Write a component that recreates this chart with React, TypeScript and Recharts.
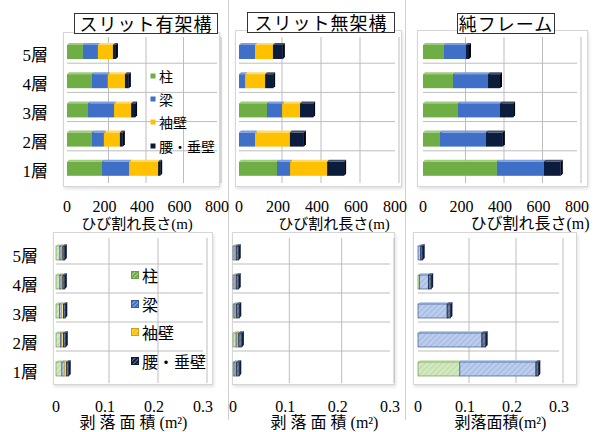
import { BarChart, Bar, XAxis, YAxis, CartesianGrid, Legend } from 'recharts'

const floors = ['5層', '4層', '3層', '2層', '1層']

// ひび割れ長さ (m)
const crackSlitColumn = [85, 133, 112, 133, 187]
const crackSlitBeam = [80, 85, 139, 64, 144]
const crackSlitWing = [80, 91, 91, 85, 155]
const crackSlitSpandrel = [16, 21, 21, 16, 11]

const crackOpenColumn = [0, 0, 144, 0, 195]
const crackOpenBeam = [82, 31, 77, 82, 67]
const crackOpenWing = [92, 103, 92, 179, 190]
const crackOpenSpandrel = [51, 41, 67, 72, 87]

const crackFrameColumn = [109, 156, 182, 88, 384]
const crackFrameBeam = [114, 182, 218, 239, 244]
const crackFrameWing = [0, 0, 0, 0, 0]
const crackFrameSpandrel = [16, 62, 68, 88, 88]

// 剥落面積 (m²)
const spallSlitColumn = [0.008, 0.008, 0.007, 0.009, 0.012]
const spallSlitBeam = [0.003, 0.003, 0.004, 0.003, 0.005]
const spallSlitWing = [0.003, 0.003, 0.004, 0.003, 0.004]
const spallSlitSpandrel = [0.004, 0.004, 0.004, 0.005, 0.005]

const spallOpenColumn = [0, 0, 0.002, 0.006, 0.002]
const spallOpenBeam = [0.004, 0.004, 0.003, 0.002, 0.003]
const spallOpenWing = [0.002, 0.002, 0.002, 0.003, 0.002]
const spallOpenSpandrel = [0.005, 0.005, 0.005, 0.006, 0.005]

const spallFrameColumn = [0, 0.003, 0, 0, 0.089]
const spallFrameBeam = [0.006, 0.019, 0.062, 0.136, 0.162]
const spallFrameWing = [0, 0, 0, 0, 0]
const spallFrameSpandrel = [0.004, 0.006, 0.007, 0.008, 0.005]

const crackTicks = [0, 200, 400, 600, 800]
const spallTicks = [0, 0.1, 0.2, 0.3]
const panelTitles = ['スリット有架構', 'スリット無架構', '純フレーム']
const crackAxisTitle = ['ひび割れ長さ', '(m)']
const spallAxisTitle = ['剥落面積', '(m²)']

const SERIF = "'Liberation Serif', 'Noto Sans CJK JP', serif"
const GOTHIC = "'Noto Sans CJK JP', sans-serif"

const series = [
  { key: 'column', name: '柱', color: '#6fae45', top: '#9fcb7f', side: '#4d7d2f', light: '#d3e8c0', edge: '#6f9a52' },
  { key: 'beam', name: '梁', color: '#3f6fc6', top: '#7d9fdc', side: '#2a4f94', light: '#bccdec', edge: '#3b5a92' },
  { key: 'wing', name: '袖壁', color: '#ffc000', top: '#ffd966', side: '#c49300', light: '#ffe8a3', edge: '#c9a030' },
  { key: 'spandrel', name: '腰・垂壁', color: '#0c1c3c', top: '#44506a', side: '#000510', light: '#6d7d99', edge: '#0c1c3c' },
]

type Row = { floor: string; column: number; beam: number; wing: number; spandrel: number }

function toRows(column: number[], beam: number[], wing: number[], spandrel: number[]): Row[] {
  return floors.map((floor, i) => ({ floor, column: column[i], beam: beam[i], wing: wing[i], spandrel: spandrel[i] }))
}

const TOP_Y = 37
const TOP_H = 146
const BOTTOM_Y = 238
const BOTTOM_H = 145
const PAD_L = 10
const PAD_R = 22

const panels = [
  {
    id: 'p1', data: toRows(crackSlitColumn, crackSlitBeam, crackSlitWing, crackSlitSpandrel),
    ticks: crackTicks, axisTitle: crackAxisTitle, hatched: false, axisH: 56,
    plot: { x: 67, y: TOP_Y, w: 150, h: TOP_H }, frame: { x: 63, y: 32, w: 157, h: 155 },
    yAxisWidth: 56, yTickMargin: 19, xTickMargin: 18, titleBaseline: 46, titleDx: -5, titleSize: 15, titleSpacing: 0,
    legend: { x: 150, y: 64, square: 6, size: 14, row: 23.3 },
  },
  {
    id: 'p2', data: toRows(crackOpenColumn, crackOpenBeam, crackOpenWing, crackOpenSpandrel),
    ticks: crackTicks, axisTitle: crackAxisTitle, hatched: false, axisH: 56,
    plot: { x: 239, y: TOP_Y, w: 156, h: TOP_H }, frame: { x: 235, y: 30, w: 167, h: 157 },
    yAxisWidth: 0, yTickMargin: 0, xTickMargin: 18, titleBaseline: 46, titleDx: 17, titleSize: 15, titleSpacing: 0,
  },
  {
    id: 'p3', data: toRows(crackFrameColumn, crackFrameBeam, crackFrameWing, crackFrameSpandrel),
    ticks: crackTicks, axisTitle: crackAxisTitle, hatched: false, axisH: 56,
    plot: { x: 423, y: TOP_Y, w: 154, h: TOP_H }, frame: { x: 417, y: 30, w: 171, h: 157 },
    yAxisWidth: 0, yTickMargin: 0, xTickMargin: 18, titleBaseline: 46, titleDx: 30, titleSize: 16, titleSpacing: 0,
  },
  {
    id: 'p4', data: toRows(spallSlitColumn, spallSlitBeam, spallSlitWing, spallSlitSpandrel),
    ticks: spallTicks, axisTitle: spallAxisTitle, hatched: true, axisH: 49,
    plot: { x: 56, y: BOTTOM_Y, w: 147, h: BOTTOM_H }, frame: { x: 53, y: 232, w: 160, h: 153 },
    yAxisWidth: 46, yTickMargin: 18, xTickMargin: 18, titleBaseline: 45, titleDx: 4, titleSize: 16, titleSpacing: 4,
    legend: { x: 131, y: 261, square: 8, size: 16, row: 28.5 },
  },
  {
    id: 'p5', data: toRows(spallOpenColumn, spallOpenBeam, spallOpenWing, spallOpenSpandrel),
    ticks: spallTicks, axisTitle: spallAxisTitle, hatched: true, axisH: 49,
    plot: { x: 233, y: BOTTOM_Y, w: 157, h: BOTTOM_H }, frame: { x: 232, y: 232, w: 163, h: 153 },
    yAxisWidth: 0, yTickMargin: 0, xTickMargin: 18, titleBaseline: 45, titleDx: 13, titleSize: 16, titleSpacing: 4,
  },
  {
    id: 'p6', data: toRows(spallFrameColumn, spallFrameBeam, spallFrameWing, spallFrameSpandrel),
    ticks: spallTicks, axisTitle: spallAxisTitle, hatched: true, axisH: 49,
    plot: { x: 418, y: BOTTOM_Y, w: 141, h: BOTTOM_H }, frame: { x: 413, y: 232, w: 164, h: 153 },
    yAxisWidth: 0, yTickMargin: 0, xTickMargin: 18, titleBaseline: 45, titleDx: 12, titleSize: 16, titleSpacing: 0,
  },
]

const titleBoxes = [
  { left: 74, top: 13, width: 144 },
  { left: 247, top: 12, width: 148 },
  { left: 457, top: 13, width: 98 },
]

type Panel = (typeof panels)[number]

// stacked segment with a shallow top face and right face for the 3D look
function Block3D(props: any) {
  const { x, y, width, height, fill, stroke, topFill, sideFill } = props
  if (!width || width <= 0.01) return <g />
  const d = 2
  return (
    <g>
      <polygon points={`${x},${y} ${x + d},${y - d} ${x + width + d},${y - d} ${x + width},${y}`} fill={topFill} />
      <polygon
        points={`${x + width},${y} ${x + width + d},${y - d} ${x + width + d},${y + height - d} ${x + width},${y + height}`}
        fill={sideFill}
      />
      <rect x={x} y={y} width={width} height={height} fill={fill} stroke={stroke} strokeWidth={stroke ? 0.7 : 0} />
    </g>
  )
}

function AxisTitle(props: any) {
  const { viewBox, parts, baseline, dx, size, spacing, fallback } = props
  const box = viewBox && typeof viewBox.x === 'number' ? viewBox : fallback
  const cx = box.x + box.width / 2 + dx
  return (
    <text x={cx} y={box.y + baseline} textAnchor="middle" fontSize={size} fill="#000">
      <tspan fontFamily={GOTHIC} style={{ letterSpacing: spacing }}>{parts[0]}</tspan>
      <tspan fontFamily={SERIF}>{parts[1]}</tspan>
    </text>
  )
}

function LegendList({ payload, cfg }: { payload?: any[]; cfg: Panel }) {
  const lg = cfg.legend!
  const keys = new Set((payload ?? []).map((p: any) => p.dataKey))
  const items = series.filter(s => keys.size === 0 || keys.has(s.key))
  return (
    <div>
      {items.map(s => (
        <div
          key={s.key}
          style={{ display: 'flex', alignItems: 'center', height: lg.row, fontFamily: GOTHIC, fontSize: lg.size, lineHeight: 1, color: '#000' }}
        >
          <svg width={lg.square} height={lg.square} style={{ marginRight: 3, display: 'block' }}>
            <rect
              x={0.5} y={0.5} width={lg.square - 1} height={lg.square - 1}
              fill={cfg.hatched ? `url(#${cfg.id}-swatch-${s.key})` : s.color}
              stroke={cfg.hatched ? s.edge : 'none'}
            />
          </svg>
          <span style={{ whiteSpace: 'nowrap' }}>{s.name}</span>
        </div>
      ))}
    </div>
  )
}

function PanelChart({ cfg }: { cfg: Panel }) {
  const max = cfg.ticks[cfg.ticks.length - 1]
  const left = cfg.plot.x - cfg.yAxisWidth - PAD_L
  const top = cfg.plot.y
  const width = PAD_L + cfg.yAxisWidth + cfg.plot.w + PAD_R
  const height = cfg.plot.h + cfg.axisH
  const plotLeft = PAD_L + cfg.yAxisWidth
  // the back wall sits a little right of and above the bar fronts
  const wallShift = 4
  const verticalPoints = cfg.ticks.filter(t => t > 0).map(t => plotLeft + (t / max) * cfg.plot.w + wallShift)
  const horizontalPoints = [1, 2, 3, 4].map(i => (i * cfg.plot.h) / floors.length - 3)

  return (
    <>
      <div
        style={{
          position: 'absolute', left: cfg.frame.x, top: cfg.frame.y, width: cfg.frame.w, height: cfg.frame.h,
          boxSizing: 'border-box', border: '1px solid #d6d6d6', background: '#fff',
          boxShadow: '1px 2px 3px rgba(0,0,0,0.12)',
        }}
      />
      <div style={{ position: 'absolute', left, top }}>
        <BarChart
          width={width}
          height={height}
          data={cfg.data}
          layout="vertical"
          barSize={14}
          margin={{ top: 0, right: PAD_R, bottom: 0, left: PAD_L }}
        >
          <defs>
            {series.map(s => (
              <pattern key={s.key} id={`${cfg.id}-${s.key}`} width={4} height={4} patternUnits="userSpaceOnUse" patternTransform="rotate(45)">
                <rect width={4} height={4} fill={s.light} />
                <line x1={0} y1={0} x2={0} y2={4} stroke={s.color} strokeWidth={1} strokeOpacity={0.45} />
              </pattern>
            ))}
            {series.map(s => (
              <pattern key={s.key} id={`${cfg.id}-swatch-${s.key}`} width={3} height={3} patternUnits="userSpaceOnUse" patternTransform="rotate(45)">
                <rect width={3} height={3} fill={s.color} />
                <line x1={0} y1={0} x2={0} y2={3} stroke="#fff" strokeWidth={1} strokeOpacity={0.8} />
              </pattern>
            ))}
          </defs>
          <CartesianGrid
            stroke="#bdbdbd"
            strokeWidth={1}
            verticalPoints={verticalPoints}
            horizontalPoints={horizontalPoints}
          />
          <XAxis
            type="number"
            domain={[0, max]}
            ticks={cfg.ticks}
            interval={0}
            height={cfg.axisH}
            axisLine={false}
            tickLine={false}
            tickSize={0}
            tickMargin={cfg.xTickMargin}
            tick={{ fontSize: 16, fill: '#000', fontFamily: SERIF }}
            label={
              <AxisTitle
                parts={cfg.axisTitle}
                baseline={cfg.titleBaseline}
                dx={cfg.titleDx}
                size={cfg.titleSize}
                spacing={cfg.titleSpacing}
                fallback={{ x: plotLeft, y: cfg.plot.h, width: cfg.plot.w }}
              />
            }
          />
          {cfg.yAxisWidth > 0 ? (
            <YAxis
              type="category"
              dataKey="floor"
              width={cfg.yAxisWidth}
              axisLine={false}
              tickLine={false}
              tickSize={0}
              tickMargin={cfg.yTickMargin}
              tick={{ fontSize: 17, fill: '#000', fontFamily: SERIF, dy: 3 }}
            />
          ) : (
            <YAxis type="category" dataKey="floor" hide />
          )}
          {series.map(s => (
            <Bar
              key={s.key}
              dataKey={s.key}
              name={s.name}
              stackId="a"
              fill={cfg.hatched ? `url(#${cfg.id}-${s.key})` : s.color}
              isAnimationActive={false}
              shape={(p: any) => (
                <Block3D
                  {...p}
                  stroke={cfg.hatched ? s.edge : undefined}
                  topFill={cfg.hatched ? s.light : s.top}
                  sideFill={cfg.hatched ? s.edge : s.side}
                />
              )}
            />
          ))}
          {cfg.legend && (
            <Legend
              layout="vertical"
              align="center"
              verticalAlign="middle"
              wrapperStyle={{ left: cfg.legend.x - left, top: cfg.legend.y - top, width: 'auto' }}
              content={(p: any) => <LegendList payload={p.payload} cfg={cfg} />}
            />
          )}
        </BarChart>
      </div>
    </>
  )
}

export default function App() {
  return (
    <div style={{ position: 'absolute', left: 0, top: 0, width: 599, height: 432, background: '#fff', overflow: 'hidden' }}>
      <div style={{ position: 'absolute', left: 228, top: 0, width: 1, height: 420, background: '#cfcfcf' }} />
      <div style={{ position: 'absolute', left: 405, top: 0, width: 1, height: 420, background: '#cfcfcf' }} />
      {panels.map(p => (
        <PanelChart key={p.id} cfg={p} />
      ))}
      {titleBoxes.map((b, i) => (
        <div
          key={i}
          style={{
            position: 'absolute', left: b.left, top: b.top, width: b.width, height: 21,
            boxSizing: 'border-box', border: '1px solid #333', background: '#fff',
            fontFamily: GOTHIC, fontSize: 18, lineHeight: '19px', letterSpacing: 1, textAlign: 'center',
            color: '#000', whiteSpace: 'nowrap',
          }}
        >
          {panelTitles[i]}
        </div>
      ))}
    </div>
  )
}
